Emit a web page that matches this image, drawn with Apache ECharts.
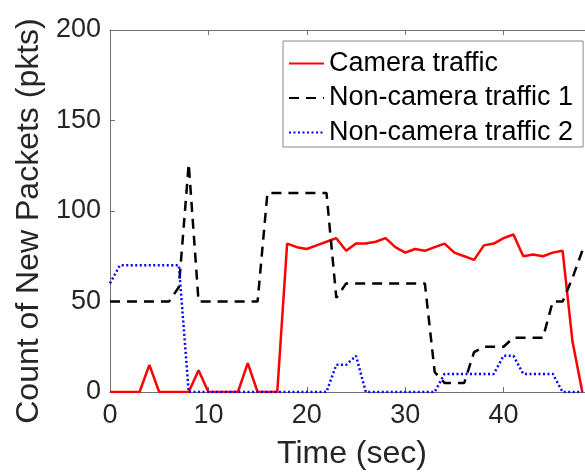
<!DOCTYPE html>
<html>
<head>
<meta charset="utf-8">
<script src="https://cdn.jsdelivr.net/npm/echarts@6/dist/echarts.min.js"></script>
<style>
  html, body { margin: 0; padding: 0; background: #fff; overflow: hidden; }
  #chart { width: 620px; height: 475px; }
</style>
</head>
<body>
<div id="chart"></div>
<script>
// Seconds 0..48
var timeSec = [];
for (var t = 0; t <= 48; t++) timeSec.push(t);

var cameraTraffic = [
  0, 0, 0, 0, 15, 0, 0, 0, 0, 12,
  0, 0, 0, 0, 16, 0, 0, 0, 82, 80,
  79, 81, 83, 85, 78, 82, 82, 83, 85, 80,
  77, 79, 78, 80, 82, 77, 75, 73, 81, 82,
  85, 87, 75, 76, 75, 77, 78, 28, 0
];

var nonCameraTraffic1 = [
  50, 50, 50, 50, 50, 50, 50, 58, 126, 50,
  50, 50, 50, 50, 50, 50, 110, 110, 110, 110,
  110, 110, 110, 52, 60, 60, 60, 60, 60, 60,
  60, 60, 60, 11, 5, 5, 5, 22, 25, 25,
  25, 30, 30, 30, 30, 50, 50, 63, 78
];

var nonCameraTraffic2 = [
  60, 70, 70, 70, 70, 70, 70, 70, 0, 0,
  0, 0, 0, 0, 0, 0, 0, 0, 0, 0,
  0, 0, 0, 15, 15, 20, 0, 0, 0, 0,
  0, 0, 0, 0, 10, 10, 10, 10, 10, 10,
  20, 20, 10, 10, 10, 10, 0, 0, 0
];

var seriesNames = ['Camera traffic', 'Non-camera traffic 1', 'Non-camera traffic 2'];
var yTicks = [0, 50, 100, 150, 200];
var xTicks = [0, 10, 20, 30, 40, 50];

function pairs(ys) {
  return ys.map(function (v, i) { return [timeSec[i], v]; });
}

var FONT = 'Liberation Sans, Arial, Helvetica, sans-serif';
var TEXT = '#262626';
var AXIS = '#707070';

var chart = echarts.init(document.getElementById('chart'), null, { renderer: 'canvas' });

chart.setOption({
  animation: false,
  backgroundColor: '#ffffff',
  textStyle: { fontFamily: FONT },
  grid: { left: 110, top: 30, width: 492.5, height: 362, containLabel: false },
  legend: {
    orient: 'vertical',
    left: 283,
    top: 41,
    padding: [9, 10, 1, 5],
    itemWidth: 35,
    itemHeight: 14,
    itemGap: 7.5,
    borderColor: '#8a8a8a',
    borderWidth: 1,
    backgroundColor: '#ffffff',
    itemStyle: { opacity: 0 },
    textStyle: { fontFamily: FONT, fontSize: 27, color: '#000', lineHeight: 24 },
    data: seriesNames
  },
  xAxis: [{
    type: 'value',
    min: xTicks[0],
    max: xTicks[xTicks.length - 1],
    interval: 10,
    name: 'Time (sec)',
    nameLocation: 'middle',
    nameGap: 46,
    nameTextStyle: { fontFamily: FONT, fontSize: 32, color: TEXT, padding: [0, 8, 0, 0] },
    axisLine: { show: true, onZero: false, lineStyle: { color: AXIS, width: 1 } },
    axisTick: { show: true, inside: true, length: 5, lineStyle: { color: AXIS } },
    axisLabel: { fontFamily: FONT, fontSize: 27, color: TEXT, margin: 10 },
    splitLine: { show: false }
  }, {
    type: 'value',
    position: 'top',
    min: xTicks[0],
    max: xTicks[xTicks.length - 1],
    interval: 10,
    axisLine: { show: true, onZero: false, lineStyle: { color: AXIS, width: 1 } },
    axisTick: { show: true, inside: true, length: 5, lineStyle: { color: AXIS } },
    axisLabel: { show: false },
    splitLine: { show: false }
  }],
  yAxis: {
    type: 'value',
    min: yTicks[0],
    max: yTicks[yTicks.length - 1],
    interval: 50,
    name: 'Count of New Packets (pkts)',
    nameLocation: 'middle',
    nameGap: 61,
    nameTextStyle: { fontFamily: FONT, fontSize: 32, color: TEXT, padding: [0, 20, 0, 0] },
    axisLine: { show: true, onZero: false, lineStyle: { color: AXIS, width: 1 } },
    axisTick: { show: true, inside: true, length: 5, lineStyle: { color: AXIS } },
    axisLabel: { fontFamily: FONT, fontSize: 27, color: TEXT, margin: 9 },
    splitLine: { show: false }
  },
  series: [{
    name: seriesNames[0],
    type: 'line',
    data: pairs(cameraTraffic),
    symbol: 'none',
    color: '#ff0000',
    lineStyle: { color: '#ff0000', width: 2.5 }
  }, {
    name: seriesNames[1],
    type: 'line',
    data: pairs(nonCameraTraffic1),
    symbol: 'none',
    color: '#000000',
    lineStyle: { color: '#000000', width: 2.5, type: [10, 7] }
  }, {
    name: seriesNames[2],
    type: 'line',
    data: pairs(nonCameraTraffic2),
    symbol: 'none',
    color: '#0000ff',
    lineStyle: { color: '#0000ff', width: 2.5, type: [2, 2.5] }
  }]
});
</script>
</body>
</html>
